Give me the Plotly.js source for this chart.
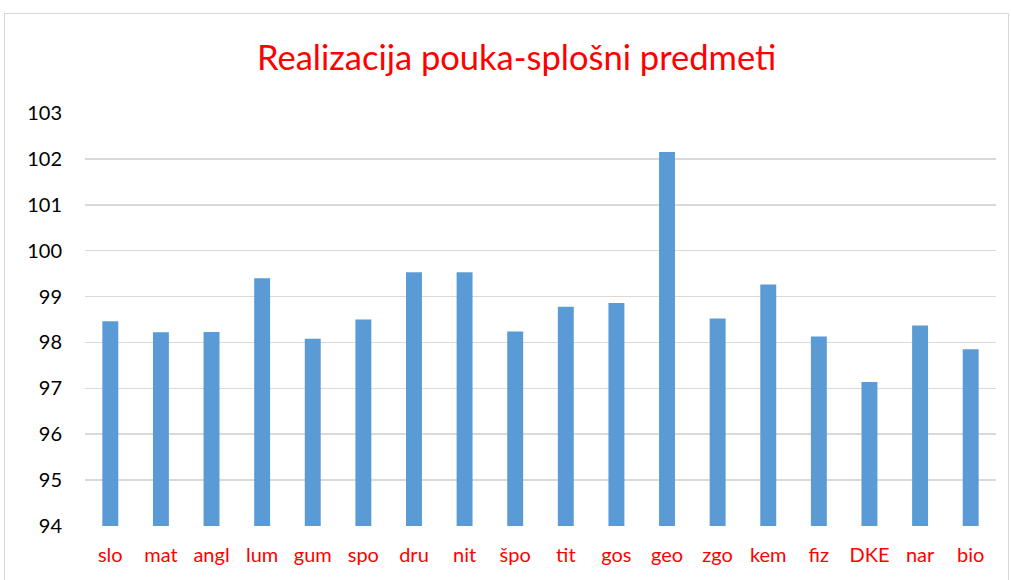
<!DOCTYPE html>
<html>
<head>
<meta charset="utf-8">
<script src="https://cdn.plot.ly/plotly-3.0.1.min.js"></script>
<style>
html,body{margin:0;padding:0;background:#fff;}
#chart{position:absolute;left:0;top:0;width:1011px;height:580px;}
#frame{position:absolute;left:4px;top:13px;width:1003px;height:600px;border:1px solid #d9d9d9;pointer-events:none;}
</style>
</head>
<body>
<div id="chart"></div>
<div id="frame"></div>
<script>
const categories = ["slo","mat","angl","lum","gum","spo","dru","nit","špo","tit","gos","geo","zgo","kem","fiz","DKE","nar","bio"];
const values = [98.46,98.22,98.23,99.40,98.08,98.50,99.53,99.53,98.24,98.78,98.86,102.15,98.52,99.26,98.13,97.14,98.37,97.85];
const yTicks = [94,95,96,97,98,99,100,101,102,103];
const baseValue = 94;

const trace = {
  type: "bar",
  x: categories,
  y: values.map(v => v - baseValue),
  base: baseValue,
  customdata: values,
  hovertemplate: "%{x}: %{customdata}<extra></extra>",
  marker: {color: "#5b9bd5"}
};

const layout = {
  width: 1011,
  height: 580,
  margin: {l: 85, r: 15, t: 113, b: 54},
  paper_bgcolor: "rgba(0,0,0,0)",
  plot_bgcolor: "rgba(0,0,0,0)",
  font: {family: "Lato, Carlito, 'Liberation Sans', sans-serif"},
  title: {
    text: "Realizacija pouka-splošni predmeti",
    font: {size: 34.5, color: "#ff0000", family: "Lato, sans-serif"},
    xref: "container", x: 0.511, xanchor: "center",
    yref: "container", y: 0.90, yanchor: "middle"
  },
  bargap: 0.685,
  showlegend: false,
  xaxis: {
    type: "category",
    tickfont: {size: 20, color: "#ff0000"},
    ticklabelstandoff: 15,
    showgrid: false,
    showline: false,
    ticks: "",
    automargin: false
  },
  yaxis: {
    range: [94, 103],
    tickvals: yTicks,
    ticktext: yTicks.map(String),
    tickfont: {size: 20, color: "#000000"},
    ticklabelstandoff: 22,
    showgrid: true,
    gridcolor: "#d9d9d9",
    gridwidth: 1.5,
    zeroline: false,
    showline: false,
    ticks: "",
    automargin: false
  }
};

Plotly.newPlot("chart", [trace], layout, {displayModeBar: false, staticPlot: true});
</script>
</body>
</html>
